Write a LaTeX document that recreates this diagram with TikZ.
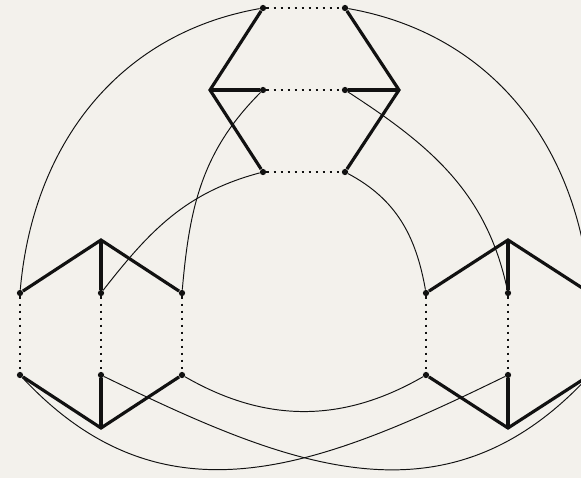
\documentclass[tikz,border=0pt]{standalone}
\usepackage{xcolor}
\usepackage{tikz}
\usetikzlibrary{positioning,calc}
\definecolor{paper}{HTML}{F3F1EC}
\definecolor{ink}{HTML}{111111}
\tikzset{
  vtx/.style={circle, fill=ink, inner sep=0pt, minimum size=1.25mm},
  rung/.style={draw=ink, line width=1.6pt, dash pattern=on 1.5pt off 2.5pt},
  bond/.style={draw=ink, line width=1.8pt, line join=miter},
  wire/.style={draw=ink, line width=0.55pt}
}
\begin{document}
\begin{tikzpicture}[x=0.02cm, y=-0.02cm]

    \path[use as bounding box, fill=paper] (0,0) rectangle (581,478);
    \clip (0,0) rectangle (581,478);

    %% Top gadget
    \node[vtx] (ta1) at (263,8)   {};
    \node[vtx] (ta2) at (263,90)  {};
    \node[vtx] (ta3) at (263,172) {};
    \node[vtx] (tb1) at (345,8)   {};
    \node[vtx] (tb2) at (345,90)  {};
    \node[vtx] (tb3) at (345,172) {};
    \coordinate (tax) at (210,90);
    \coordinate (tbx) at (399,90);
    \draw[bond] (ta1) -- (tax) -- (ta3);
    \draw[bond] (tax) -- (ta2);
    \draw[bond] (tb1) -- (tbx) -- (tb3);
    \draw[bond] (tbx) -- (tb2);
    \foreach \i in {1,2,3}
      \draw[rung] (ta\i) -- (tb\i);

    %% Left gadget
    \node[vtx] (la1) at (20,293)  {};
    \node[vtx] (la2) at (101,293) {};
    \node[vtx] (la3) at (182,293) {};
    \node[vtx] (lb1) at (20,375)  {};
    \node[vtx] (lb2) at (101,375) {};
    \node[vtx] (lb3) at (182,375) {};
    \coordinate (lax) at (101,240);
    \coordinate (lbx) at (101,428);
    \draw[bond] (la1) -- (lax) -- (la3);
    \draw[bond] (lax) -- (la2);
    \draw[bond] (lb1) -- (lbx) -- (lb3);
    \draw[bond] (lbx) -- (lb2);
    \foreach \i in {1,2,3}
      \draw[rung] (la\i) -- (lb\i);

    %% Right gadget (third column runs off the page)
    \node[vtx] (ra1) at (426,293) {};
    \node[vtx] (ra2) at (508,293) {};
    \node[vtx] (ra3) at (590,293) {};
    \node[vtx] (rb1) at (426,375) {};
    \node[vtx] (rb2) at (508,375) {};
    \node[vtx] (rb3) at (590,375) {};
    \coordinate (rax) at (508,240);
    \coordinate (rbx) at (508,428);
    \draw[bond] (ra1) -- (rax) -- (ra3);
    \draw[bond] (rax) -- (ra2);
    \draw[bond] (rb1) -- (rbx) -- (rb3);
    \draw[bond] (rbx) -- (rb2);
    \foreach \i in {1,2,3}
      \draw[rung] (ra\i) -- (rb\i);

    %% Links
    \draw[wire] (ta1) to[out=190, in=85] (la1);
    \draw[wire] (ta2) to[out=225, in=85] (la3);
    \draw[wire] (ta3) to[out=195, in=52] (la2);
    \draw[wire] (tb1) to[out=-10, in=95] (ra3);
    \draw[wire] (tb2) to[out=-33, in=102] (ra2);
    \draw[wire] (tb3) to[out=-28, in=100] (ra1);
    \draw[wire] (lb3) to[out=-30, in=210] (rb1);
    \draw[wire] (lb1) to[out=-47, in=206, looseness=1.1] (rb2);
    \draw[wire] (lb2) to[out=-26, in=227, looseness=1.1] (rb3);
  \end{tikzpicture}
\end{document}
